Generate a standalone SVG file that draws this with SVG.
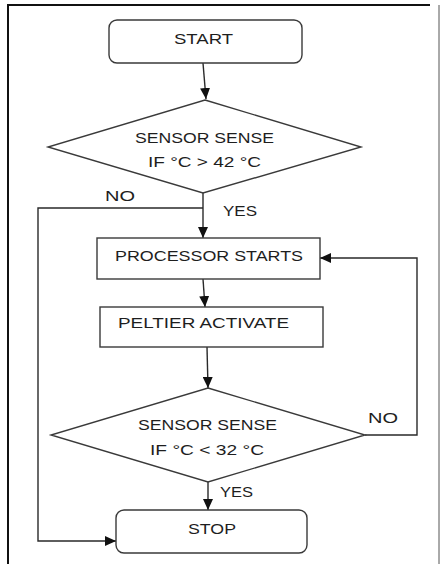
<svg xmlns="http://www.w3.org/2000/svg" width="440" height="564" viewBox="0 0 440 564">
  <style>
    .shape { fill: #ffffff; stroke: #3a3a3a; stroke-width: 1.4; }
    .edge { fill: none; stroke: #2a2a2a; stroke-width: 1.4; }
    .lbl { font-family: "Liberation Sans", Arial, sans-serif; font-size: 15px; fill: #1e1e1e; }
    .frame { fill: none; stroke: #111111; stroke-width: 2; }
  </style>
  <defs>
    <marker id="arrow" markerUnits="userSpaceOnUse" markerWidth="12" markerHeight="10" refX="11" refY="5" orient="auto">
      <path d="M0,0 L11,5 L0,10 Z" fill="#111111"/>
    </marker>
  </defs>

  <rect width="440" height="564" fill="#ffffff"/>

  <!-- page frame -->
  <path class="frame" d="M8,564 L8,5 L430,5"/>
  <line x1="439" y1="5" x2="439" y2="564" stroke="#555555" stroke-width="1"/>

  <!-- connectors -->
  <g id="connectors">
    <path class="edge" d="M203,63 L206,99" marker-end="url(#arrow)"/>
    <path class="edge" d="M203,193 L203,238" marker-end="url(#arrow)"/>
    <path class="edge" d="M203,208 L38,208 L38,541 L116,541" marker-end="url(#arrow)"/>
    <path class="edge" d="M203,279 L205,307" marker-end="url(#arrow)"/>
    <path class="edge" d="M207,347 L208,388" marker-end="url(#arrow)"/>
    <path class="edge" d="M365,435 L417,435 L417,258 L320,258" marker-end="url(#arrow)"/>
    <path class="edge" d="M208,482 L208,510" marker-end="url(#arrow)"/>
    <text class="lbl" x="105" y="201" textLength="30" lengthAdjust="spacingAndGlyphs">NO</text>
    <text class="lbl" x="223" y="216" textLength="34" lengthAdjust="spacingAndGlyphs">YES</text>
    <text class="lbl" x="368" y="423" textLength="30" lengthAdjust="spacingAndGlyphs">NO</text>
    <text class="lbl" x="220" y="497" textLength="33" lengthAdjust="spacingAndGlyphs">YES</text>
  </g>

  <g id="start">
    <rect class="shape" x="109" y="20" width="193" height="43" rx="8"/>
    <text class="lbl" x="174" y="44" textLength="59" lengthAdjust="spacingAndGlyphs">START</text>
  </g>

  <g id="check-high">
    <polygon class="shape" points="205,100 361,147 203,193 48,147"/>
    <text class="lbl" x="135" y="143" textLength="139" lengthAdjust="spacingAndGlyphs">SENSOR SENSE</text>
    <text class="lbl" x="148" y="167" textLength="113" lengthAdjust="spacingAndGlyphs">IF °C &gt; 42 °C</text>
  </g>

  <g id="processor">
    <rect class="shape" x="97" y="238" width="223" height="41"/>
    <text class="lbl" x="115" y="261" textLength="188" lengthAdjust="spacingAndGlyphs">PROCESSOR STARTS</text>
  </g>

  <g id="peltier">
    <rect class="shape" x="100" y="307" width="223" height="40"/>
    <text class="lbl" x="118" y="328" textLength="171" lengthAdjust="spacingAndGlyphs">PELTIER ACTIVATE</text>
  </g>

  <g id="check-low">
    <polygon class="shape" points="208,388 365,435 208,482 51,435"/>
    <text class="lbl" x="138" y="430" textLength="139" lengthAdjust="spacingAndGlyphs">SENSOR SENSE</text>
    <text class="lbl" x="150" y="455" textLength="114" lengthAdjust="spacingAndGlyphs">IF °C &lt; 32 °C</text>
  </g>

  <g id="stop">
    <rect class="shape" x="116" y="510" width="191" height="43" rx="8"/>
    <text class="lbl" x="188" y="534" textLength="48" lengthAdjust="spacingAndGlyphs">STOP</text>
  </g>
</svg>
